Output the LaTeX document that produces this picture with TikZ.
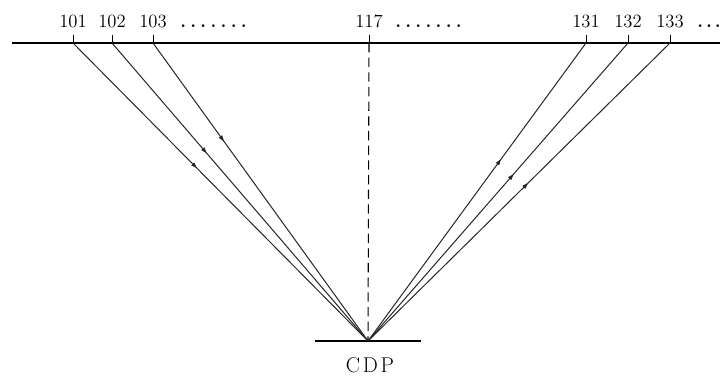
\documentclass[tikz,border=0pt]{standalone}
\usetikzlibrary{decorations.markings,arrows.meta}
\newcommand{\spdots}[2]{\foreach \i in {1,...,#1}{.\hspace{#2}}}
\begin{document}
\begin{tikzpicture}[x=0.75pt,y=-0.75pt,
  lbl/.style={font=\fontsize{14}{16}\selectfont, inner sep=0pt, anchor=base},
  dotl/.style={font=\fontsize{14}{16}\selectfont\bfseries, inner sep=0pt, anchor=base west},
  ray/.style={line width=0.75pt, black!85},
  tickline/.style={line width=0.7pt},
  mk/.style={postaction={decorate,decoration={markings,
     mark=at position #1 with {\arrow{Triangle[length=4.5pt,width=3pt]}}}}}
]
\useasboundingbox (0,0) rectangle (720,381);
% surface
\draw[line width=1.1pt] (12,43) -- (720,43);
% station coordinates
\foreach \n/\x in {101/73,102/112,103/153,117/369,131/586,132/628,133/670}{
  \coordinate (t\n) at (\x,35);
  \coordinate (r\n) at (\x,43);
  \node[lbl] (l\n) at (\x,28) {\n};
  \draw[tickline] (t\n) -- (r\n);
}
% dots
\node[dotl] (d1) at (180,28) {\spdots{7}{3.2pt}};
\node[dotl] (d2) at (395,28) {\spdots{7}{3.2pt}};
\node[dotl] (d3) at (697,28) {.\hspace{2.2pt}.\hspace{2.2pt}.};
% CDP
\coordinate (cdp) at (368,341);
\coordinate (bl) at (315,341);
\coordinate (br) at (421,341);
\draw[line width=0.9pt] (bl) -- (br);
\node[font=\fontsize{16}{18}\selectfont, inner sep=0pt, anchor=base] (cdpl) at (370,372) {C\hspace{2pt}D\hspace{2pt}P};
% dashed normal
\draw[line width=0.8pt, dash pattern=on 7pt off 4pt] (r117) -- (cdp);
% rays
\draw[ray, mk=0.42] (r101) -- (cdp);
\draw[ray, mk=0.37] (r102) -- (cdp);
\draw[ray, mk=0.33] (r103) -- (cdp);
\draw[ray, mk=0.61] (cdp) -- (r131);
\draw[ray, mk=0.56] (cdp) -- (r132);
\draw[ray, mk=0.53] (cdp) -- (r133);
\end{tikzpicture}
\end{document}
